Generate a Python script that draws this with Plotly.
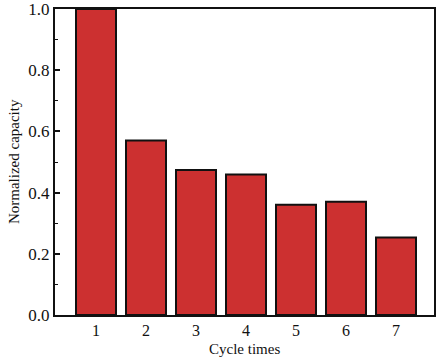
import plotly.graph_objects as go

cycles = [1, 2, 3, 4, 5, 6, 7]
capacity = [1.0, 0.57, 0.474, 0.459, 0.36, 0.37, 0.253]
y_ticks = [0.0, 0.2, 0.4, 0.6, 0.8, 1.0]
y_tick_labels = ["0.0", "0.2", "0.4", "0.6", "0.8", "1.0"]

fig = go.Figure(go.Bar(
    x=cycles, y=capacity, width=0.8,
    marker=dict(color="#CC3030", line=dict(color="#111111", width=2)),
))

font = "Liberation Serif"
fig.update_layout(
    width=440, height=360,
    margin=dict(l=55, r=6, t=9, b=45),
    plot_bgcolor="white", paper_bgcolor="white",
    font=dict(family=font, color="#111111", size=14),
    showlegend=False,
    annotations=[
        dict(text="Cycle times", x=0.5, y=-0.111, xref="paper", yref="paper",
             xanchor="center", yanchor="middle", showarrow=False, font=dict(size=15)),
        dict(text="Normalized capacity", x=-0.108, y=0.5, xref="paper", yref="paper",
             xanchor="center", yanchor="middle", textangle=-90, showarrow=False, font=dict(size=15)),
    ],
)
fig.update_xaxes(
    range=[0.18, 7.76], tickvals=cycles, ticktext=[str(c) for c in cycles],
    showline=True, linecolor="#111111", linewidth=2, mirror=True,
    ticks="", showgrid=False, zeroline=False, automargin=False,
    ticklabeloverflow="allow",
    tickfont=dict(size=16),
)
fig.update_yaxes(
    range=[0, 1.0], tickvals=y_ticks, ticktext=y_tick_labels,
    showline=True, linecolor="#111111", linewidth=2, mirror=True,
    ticks="inside", ticklen=5, tickwidth=1.5, tickcolor="#111111",
    minor=dict(tickvals=[0.1, 0.3, 0.5, 0.7, 0.9], ticks="inside", ticklen=3, tickwidth=1.2, tickcolor="#111111"),
    showgrid=False, zeroline=False, automargin=False,
    ticklabeloverflow="allow",
    tickfont=dict(size=17),
)
fig.write_html(
    "out.html",
    config={"displayModeBar": False},
    post_script="document.body.style.margin='0';document.body.style.overflow='hidden';",
)
